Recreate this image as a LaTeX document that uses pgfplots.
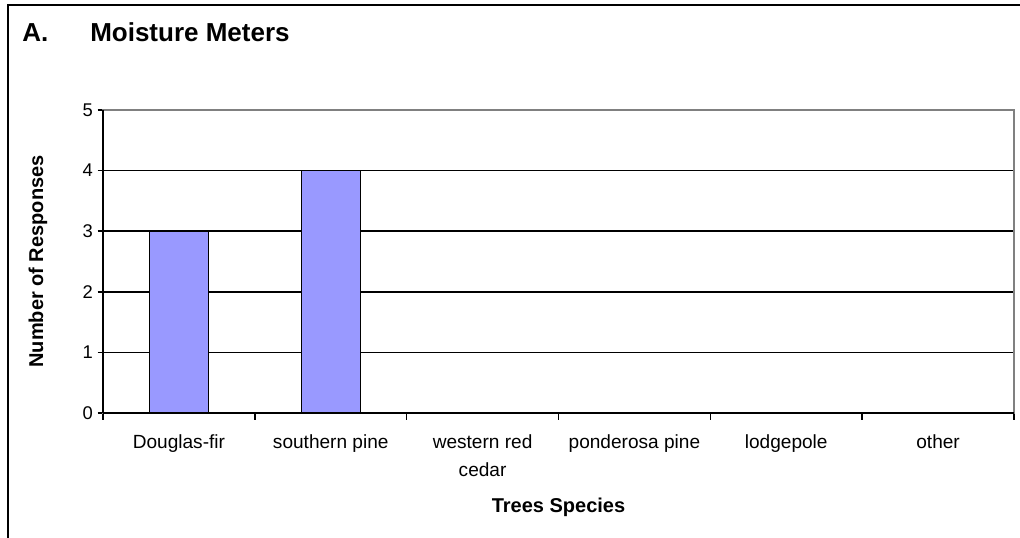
\documentclass[border=0pt]{standalone}
\usepackage{pgfplots}
\pgfplotsset{compat=1.18}
\usepackage{fontspec}
\setmainfont{Liberation Sans}
\definecolor{barblue}{HTML}{9999FF}
\definecolor{bordergray}{HTML}{808080}
\begin{document}
\begin{tikzpicture}[x=0.75pt,y=0.75pt]
% page = 1020 x 538 px, axis origin at px (103,413)
\useasboundingbox (-103,-125) rectangle (917,413);
\draw[line width=1.5pt] (-95,-140) -- (-95,408) -- (930,408);
\node[anchor=base west, inner sep=0pt, font=\bfseries\fontsize{19.5}{22}\selectfont] at (-81,371) {A.};
\node[anchor=base west, inner sep=0pt, font=\bfseries\fontsize{19.5}{22}\selectfont] at (-13,371) {Moisture Meters};
\begin{axis}[
  at={(0,0)}, anchor=origin,
  scale only axis,
  width=683.25pt, height=227.25pt,
  xmin=0, xmax=6, ymin=0, ymax=5,
  ybar, bar width=44.25pt,
  axis line style={bordergray, line width=1.1pt},
  xtick={0.5,1.5,2.5,3.5,4.5,5.5},
  xticklabels={Douglas-fir, southern pine, {western red\\cedar}, ponderosa pine, lodgepole, other},
  xticklabel style={align=center, font=\fontsize{14.3}{20.5}\selectfont, yshift=-9pt},
  major x tick style={draw=none},
  minor xtick={0,1,2,3,4,5,6},
  minor x tick style={black, line width=1.1pt},
  minor tick length=5pt,
  ytick={0,1,2,3,4,5},
  yticklabel style={font=\fontsize{13.8}{16}\selectfont},
  y tick style={black, line width=1.1pt},
  major tick length=4pt,
  tick align=outside,
  xtick pos=bottom, ytick pos=left,
  ymajorgrids, grid style={black, line width=1.1pt},
  /pgf/number format/assume math mode=true,
  xlabel={\bfseries Trees Species},
  ylabel={\bfseries Number of Responses},
  every axis x label/.style={at={(axis description cs:0.5,0)}, anchor=center, yshift=-70.5pt, font=\fontsize{15}{17}\selectfont},
  every axis y label/.style={at={(axis description cs:0,0.5)}, anchor=center, rotate=90, yshift=48.75pt, font=\fontsize{15}{17}\selectfont},
  clip=false,
]
\addplot[fill=barblue, draw=black, line width=1.1pt] coordinates {
  (0.5,3) (1.5,4) (2.5,0) (3.5,0) (4.5,0) (5.5,0)
};
\draw[black, line width=1.6pt] (rel axis cs:0,0) -- (rel axis cs:1,0);
\draw[black, line width=1.1pt] (rel axis cs:0,0) -- (rel axis cs:0,1);
\end{axis}
\end{tikzpicture}
\end{document}
